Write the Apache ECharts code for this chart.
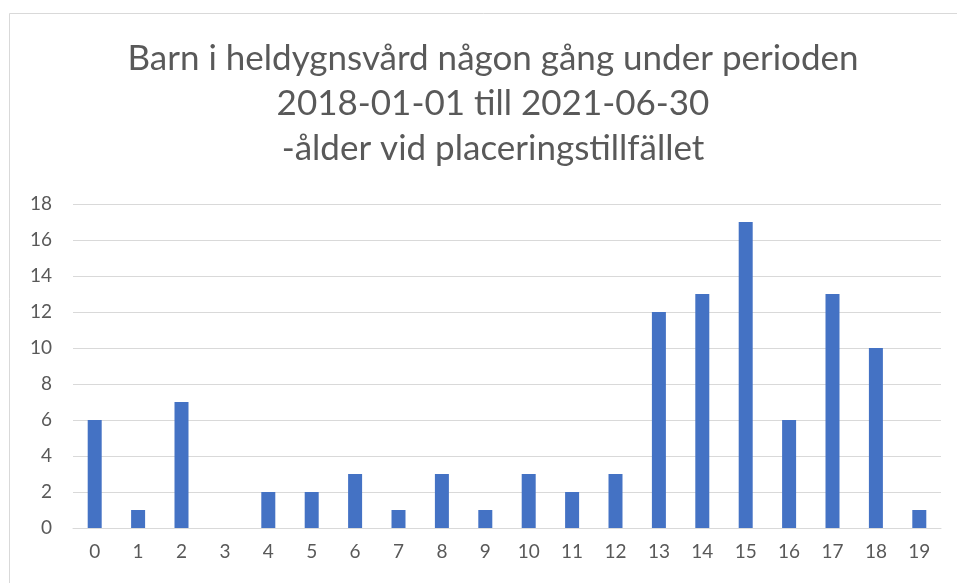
<!DOCTYPE html>
<html><head><meta charset="utf-8">
<script src="https://cdn.jsdelivr.net/npm/echarts@6/dist/echarts.min.js"></script>
<style>html,body{margin:0;padding:0;background:#fff}#c{width:957px;height:583px}</style>
</head><body><div id="c"></div>
<script>
const titleLines = ["Barn i heldygnsvård någon gång under perioden", "2018-01-01 till 2021-06-30", "-ålder vid placeringstillfället"];
const categories = ["0","1","2","3","4","5","6","7","8","9","10","11","12","13","14","15","16","17","18","19"];
const values = [6,1,7,0,2,2,3,1,3,1,3,2,3,12,13,17,6,13,10,1];

const chart = echarts.init(document.getElementById('c'), null, {renderer:'canvas'});
chart.setOption({
  animation:false,
  backgroundColor:'#fff',
  graphic:[{type:'rect',shape:{x:9.5,y:13.5,width:960,height:600},style:{fill:'none',stroke:'#d9d9d9',lineWidth:1}}],
  title:{text:titleLines.join('\n'),left:488,top:31,textAlign:'center',
    textStyle:{fontFamily:'Lato',fontWeight:'normal',fontSize:35,lineHeight:45,color:'#595959',align:'center'}},
  grid:{left:73,right:16,top:204,bottom:55,containLabel:false},
  xAxis:{type:'category',data:categories,
    axisLine:{show:true,lineStyle:{color:'#d9d9d9'}},axisTick:{show:false},
    axisLabel:{show:true,textStyle:{},color:'#595959',fontSize:19,fontFamily:'Lato',margin:14,hideOverlap:false}},
  yAxis:{type:'value',min:0,max:18,interval:2,
    axisLine:{show:false},axisTick:{show:false},
    splitLine:{lineStyle:{color:'#d9d9d9',width:1}},
    axisLabel:{color:'#595959',fontSize:19,fontFamily:'Lato',margin:21}},
  series:[{type:'bar',data:values,barWidth:14,itemStyle:{color:'#4472c4'}}]
});
</script></body></html>
